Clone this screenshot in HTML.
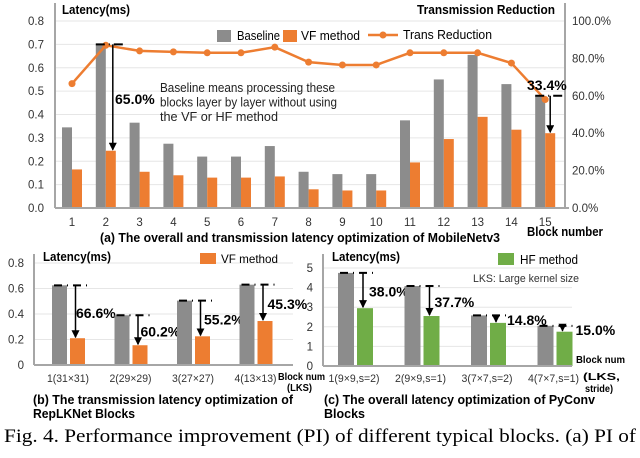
<!DOCTYPE html>
<html><head><meta charset="utf-8"><style>
body{margin:0;background:#fff;width:640px;height:453px;overflow:hidden}
svg{font-family:"Liberation Sans",Arial,sans-serif}
.b{font-weight:bold}
</style></head><body>
<svg id="s" width="640" height="453" viewBox="0 0 640 453">
<defs><marker id="ah" markerWidth="8" markerHeight="8" refX="7" refY="4" orient="auto" markerUnits="userSpaceOnUse"><path d="M0,0 L8,4 L0,8z" fill="#000"/></marker></defs>
<g id="ga"></g>
<g id="gb"></g>
<g id="gc"></g>
<text x="4" y="442" font-family="Liberation Serif,serif" font-size="19" textLength="632" lengthAdjust="spacingAndGlyphs">Fig. 4.  Performance improvement (PI) of different typical blocks. (a) PI of</text>
</svg>
<script>
const NS='http://www.w3.org/2000/svg';
function el(p,t,a,txt){const e=document.createElementNS(NS,t);for(const k in a)e.setAttribute(k,a[k]);if(txt!=null)e.textContent=txt;p.appendChild(e);return e;}
const GRAY='#8c8c8c',OR='#ed7d31',GR='#70ad47',AX='#a6a6a6';

// Chart A data
const aCats=['1','2','3','4','5','6','7','8','9','10','11','12','13','14','15'];
const aBase=[0.345,0.70,0.365,0.275,0.22,0.22,0.265,0.155,0.145,0.145,0.375,0.55,0.655,0.53,0.48];
const aVF=[0.165,0.245,0.155,0.14,0.13,0.13,0.135,0.08,0.075,0.075,0.195,0.295,0.39,0.335,0.32];
const aTrans=[66.5,87,84,83.5,83,83,86,78,76.5,76.5,83,83,83,77.5,58];
const aLeftTicks=['0.0','0.1','0.2','0.3','0.4','0.5','0.6','0.7','0.8'];
const aRightTicks=['0.0%','20.0%','40.0%','60.0%','80.0%','100.0%'];
// Chart B data
const bCats=['1(31×31)','2(29×29)','3(27×27)','4(13×13)'];
const bBase=[0.625,0.39,0.505,0.63];
const bVF=[0.21,0.155,0.225,0.345];
const bPct=['66.6%','60.2%','55.2%','45.3%'];
const bTicks=['0','0.2','0.4','0.6','0.8'];
// Chart C data
const cCats=['1(9×9,s=2)','2(9×9,s=1)','3(7×7,s=2)','4(7×7,s=1)'];
const cBase=[4.75,4.08,2.58,2.05];
const cHF=[2.95,2.55,2.2,1.75];
const cPct=['38.0%','37.7%','14.8%','15.0%'];
const cTicks=['0','1','2','3','4','5'];

function T(g,x,y,s,txt,name,extra){const t=el(g,'text',Object.assign({x:x,y:y,'font-size':s},extra||{}),txt);return t;}
const LA='spacingAndGlyphs';

// ---------- Chart A ----------
(function(){
const g=document.getElementById('ga');
const x0=55,x1=565,yz=208,yt=21;
const ya=v=>yz-(v/0.8)*(yz-yt);
const yr=v=>yz-(v/100)*(yz-yt);
const xc=i=>72+i*33.8;
aLeftTicks.forEach((t,i)=>{const v=parseFloat(t);const y=ya(v);
 if(i>0){const l=el(g,'line',{x1:x0,x2:x1,y1:y,y2:y,stroke:'#e6e6e6','stroke-width':1});}
 const tx=el(g,'text',{x:44,y:y+4,'font-size':11.5,'text-anchor':'end',fill:'#333'},t);});
aRightTicks.forEach(t=>{const y=yr(parseFloat(t));const tx=el(g,'text',{x:572,y:y+4,'font-size':11.5,fill:'#333'},t);});
aCats.forEach((c,i)=>{
 const b=el(g,'rect',{x:xc(i)-10,y:ya(aBase[i]),width:10,height:yz-ya(aBase[i]),fill:GRAY});
 const o=el(g,'rect',{x:xc(i),y:ya(aVF[i]),width:10,height:yz-ya(aVF[i]),fill:OR});
 const t=el(g,'text',{x:xc(i),y:226,'font-size':11.5,'text-anchor':'middle',fill:'#333'},c);
});
const pts=aTrans.map((v,i)=>xc(i)+','+yr(v)).join(' ');
const pl=el(g,'polyline',{points:pts,fill:'none',stroke:OR,'stroke-width':2.5});
aTrans.forEach((v,i)=>{const c=el(g,'circle',{cx:xc(i),cy:yr(v),r:3.5,fill:OR});});
let l=el(g,'line',{x1:x0,y1:yz,x2:x0,y2:3,stroke:AX,'stroke-width':2});
l=el(g,'line',{x1:x0,y1:yz,x2:x1+4,y2:yz,stroke:AX,'stroke-width':2});
l=el(g,'line',{x1:x1,y1:yz,x2:x1,y2:3,stroke:AX,'stroke-width':2});
[1,14].forEach(i=>{
 const xa=xc(i)+(i==1?7:5);const yb=ya(aBase[i]);
 let d=el(g,'line',{x1:xc(i)-10,x2:xc(i)+18,y1:yb,y2:yb,stroke:'#000','stroke-width':2,'stroke-dasharray':'9,4,1,4'});
 let a=el(g,'line',{x1:xa,y1:yb,x2:xa,y2:ya(aVF[i])-1,stroke:'#000','stroke-width':1.5,'marker-end':'url(#ah)'});
});
T(g,115,104,14,'65.0%','reduction-label',{class:'b'});
T(g,527,90,14,'33.4%','reduction-label',{class:'b'});
[['Baseline means processing these',175],['blocks layer by layer without using',177],['the VF or HF method',118]].forEach((s,k)=>{T(g,160,92+k*14.5,13,s[0],'annotation-text',{fill:'#222',textLength:s[1],lengthAdjust:LA});});
T(g,62,14,13,'Latency(ms)','y-axis-title',{class:'b',textLength:68,lengthAdjust:LA});
T(g,417,14,13,'Transmission Reduction','y2-axis-title',{class:'b',textLength:138,lengthAdjust:LA});
T(g,527,236,13,'Block number','x-axis-title',{class:'b',textLength:76,lengthAdjust:LA});
T(g,100,242,13,'(a) The overall and transmission latency optimization of MobileNetv3','chart-a-title',{class:'b',textLength:400,lengthAdjust:LA});
let r=el(g,'rect',{x:217,y:30,width:14,height:12,fill:GRAY});
T(g,237,40,13,'Baseline','legend-baseline',{textLength:43,lengthAdjust:LA});
r=el(g,'rect',{x:283,y:30,width:14,height:12,fill:OR});
T(g,301,40,13,'VF method','legend-vf',{textLength:59,lengthAdjust:LA});
l=el(g,'line',{x1:368,x2:398,y1:35,y2:35,stroke:OR,'stroke-width':2.5});
let c=el(g,'circle',{cx:383,cy:35,r:3.5,fill:OR});
T(g,403,39,13,'Trans Reduction','legend-trans',{textLength:89,lengthAdjust:LA});
})();

// ---------- Chart B & C ----------
function small(gid,cats,base,meth,pcts,ticks,max,color,x0,x1,xg,gap,bw,labX,labW,pctX,yt,yz){
 const g=document.getElementById(gid);
 const y=v=>yz-(v/max)*(yz-yt);
 ticks.forEach(t=>{const v=parseFloat(t);const yy=y(v);
  if(v>0){const l=el(g,'line',{x1:x0,x2:x1,y1:yy,y2:yy,stroke:'#e6e6e6','stroke-width':1});}
  const tx=el(g,'text',{x:x0-10,y:yy+4,'font-size':11.5,'text-anchor':'end',fill:'#333'},t);});
 cats.forEach((c,i)=>{
  const gx=xg+i*gap;
  const b=el(g,'rect',{x:gx,y:y(base[i]),width:bw,height:yz-y(base[i]),fill:GRAY});
  const o=el(g,'rect',{x:gx+bw+3,y:y(meth[i]),width:bw,height:yz-y(meth[i]),fill:color});
  const d=el(g,'line',{x1:gx+2,x2:gx+2*bw+8,y1:y(base[i]),y2:y(base[i]),stroke:'#000','stroke-width':2,'stroke-dasharray':'8,5,1,5'});
  const ax=gx+bw+3+bw/2-2;
  const a=el(g,'line',{x1:ax,y1:y(base[i]),x2:ax,y2:y(meth[i])-1,stroke:'#000','stroke-width':1.5,'marker-end':'url(#ah)'});
  T(g,gx+pctX[i],(y(base[i])+y(meth[i]))/2+6,14,pcts[i],'reduction-label',{class:'b'});
  T(g,gx+labX,382,11,c,'x-tick-label',{'text-anchor':'middle',fill:'#333',textLength:labW,lengthAdjust:LA});
 });
 let l=el(g,'line',{x1:x0,y1:yz,x2:x0,y2:254,stroke:AX,'stroke-width':2});
 l=el(g,'line',{x1:x0,y1:yz,x2:x1,y2:yz,stroke:AX,'stroke-width':2});
 T(g,x0+9,261,13,'Latency(ms)','y-axis-title',{class:'b',textLength:68,lengthAdjust:LA});
 return g;
}
let gb=small('gb',bCats,bBase,bVF,bPct,bTicks,0.8,OR,34,293,52,62.5,15,16,42,[24,26,27,28],263,365);
let gc=small('gc',cCats,cBase,cHF,cPct,cTicks,5,GR,323,572,338,66.5,16,16,51,[31,30,36,38],268,366);
let r=el(gb,'rect',{x:200,y:253,width:16,height:11,fill:OR});
T(gb,221,263,12,'VF method','legend-vf',{textLength:57,lengthAdjust:LA});
T(gb,278,380,10,'Block num','x-axis-title',{class:'b',textLength:47,lengthAdjust:LA});
T(gb,287,391,10,'(LKS)','x-axis-subtitle',{class:'b',textLength:25,lengthAdjust:LA});
T(gb,33,404,12.5,'(b) The transmission latency optimization of','chart-b-title',{class:'b',textLength:260,lengthAdjust:LA});
T(gb,33,418,12.5,'RepLKNet Blocks','chart-b-title-2',{class:'b',textLength:102,lengthAdjust:LA});
r=el(gc,'rect',{x:498,y:253,width:16,height:12,fill:GR});
T(gc,520,264,13,'HF method','legend-hf',{textLength:58,lengthAdjust:LA});
T(gc,473,282,11,'LKS: Large kernel size','annotation-text',{fill:'#333',textLength:106,lengthAdjust:LA});
T(gc,576,363,10,'Block num','x-axis-title',{class:'b',textLength:49,lengthAdjust:LA});
T(gc,583,380,10,'(LKS,','x-axis-subtitle',{class:'b',textLength:37,lengthAdjust:LA});
T(gc,585,392,10,'stride)','x-axis-subtitle-2',{class:'b',textLength:28,lengthAdjust:LA});
T(gc,324,404,12.5,'(c) The overall latency optimization of PyConv','chart-c-title',{class:'b',textLength:271,lengthAdjust:LA});
T(gc,324,418,12.5,'Blocks','chart-c-title-2',{class:'b',textLength:41,lengthAdjust:LA});
</script>
</body></html>
